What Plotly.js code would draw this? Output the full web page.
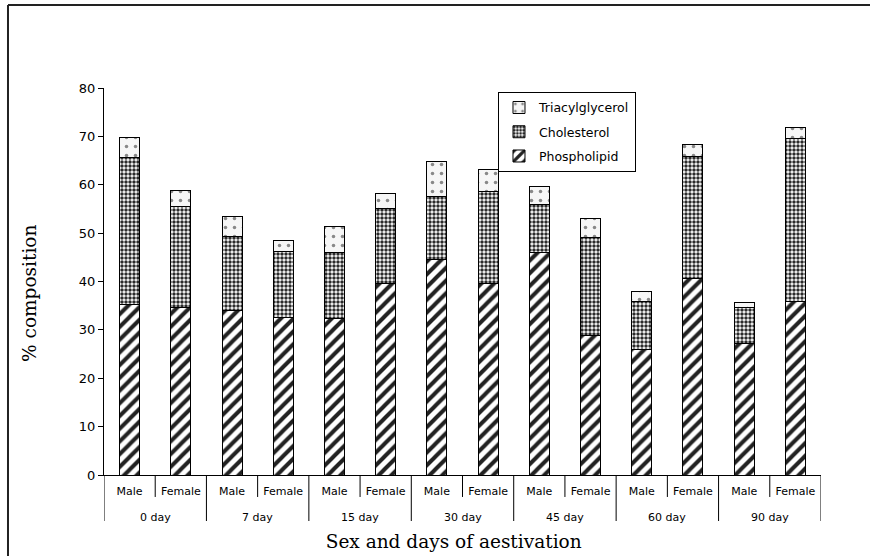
<!DOCTYPE html>
<html>
<head>
<meta charset="utf-8">
<script src="https://cdn.plot.ly/plotly-3.0.1.min.js"></script>
<style>html,body{margin:0;padding:0;background:#fff;}</style>
</head>
<body>
<div id="chart" style="width:870px;height:556px;"></div>
<script>
const groups = ['0 day','7 day','15 day','30 day','45 day','60 day','90 day'];
const sexes = ['Male','Female'];
const phospholipid = [35.3, 34.6, 34.0, 32.6, 32.4, 39.6, 44.6, 39.6, 46.0, 28.8, 26.0, 40.7, 27.2, 35.8];
const cholesterol = [30.3, 20.9, 15.3, 13.7, 13.6, 15.4, 12.9, 19.0, 9.9, 20.3, 9.9, 25.2, 7.4, 33.8];
const triacylglycerol = [4.1, 3.3, 4.2, 2.2, 5.4, 3.2, 7.4, 4.5, 3.7, 4.0, 2.0, 2.5, 1.0, 2.2];
const yTicks = [0,10,20,30,40,50,60,70,80];

// unique category keys, labelled with the sex; groups drawn below
const cats = [], catLabels = [];
groups.forEach(g => sexes.forEach(s => { cats.push(g + ' ' + s); catLabels.push(s); }));

const SANS = 'DejaVu Sans, Liberation Sans, Arial, sans-serif';
const SERIF = 'DejaVu Serif, Liberation Serif, serif';

const common = {type:'bar', x:cats, width:0.39, hoverinfo:'y'};
const traces = [
  Object.assign({}, common, {name:'Phospholipid', y:phospholipid, legendgroup:'p', legendrank:3,
    marker:{color:'#ffffff', line:{color:'#000', width:1},
      pattern:{shape:'/', fgcolor:'#222', bgcolor:'#ffffff', size:9, solidity:0.45}}}),
  Object.assign({}, common, {name:'Cholesterol', y:cholesterol, legendgroup:'c', legendrank:2,
    marker:{color:'#ffffff', line:{color:'#000', width:1},
      pattern:{shape:'.', fgcolor:'#2a2a2a', bgcolor:'#ffffff', size:4, solidity:0.6}}}),
  Object.assign({}, common, {name:'Triacylglycerol', y:triacylglycerol, legendgroup:'t', legendrank:1,
    marker:{color:'#f6f6f6', line:{color:'#000', width:1},
      pattern:{shape:'.', fgcolor:'#888', bgcolor:'#f6f6f6', size:9, solidity:0.12}}})
];

// axis decoration: separators and group labels
const shapes = [
  {type:'line', xref:'paper', yref:'paper', x0:-0.1339, x1:2, y0:1.2145, y1:1.2145, line:{color:'#222', width:2}},
  {type:'line', xref:'paper', yref:'paper', x0:-0.1339, x1:-0.1339, y0:1.2145, y1:-1, line:{color:'#222', width:2}}
];
const annotations = [];
groups.forEach((g, i) => {
  shapes.push({type:'line', xref:'x', yref:'paper', x0:2*i-0.5, x1:2*i-0.5, y0:0, y1:-0.1189, line:{color:'#000', width:1}});
  shapes.push({type:'line', xref:'x', yref:'paper', x0:2*i+0.5, x1:2*i+0.5, y0:0, y1:-0.0568, line:{color:'#000', width:1}});
  annotations.push({xref:'x', yref:'paper', x:2*i+0.5, y:-0.111, yanchor:'middle', xanchor:'center',
    showarrow:false, text:g, font:{family:SANS, size:11, color:'#000'}});
});
shapes.push({type:'line', xref:'x', yref:'paper', x0:13.5, x1:13.5, y0:0, y1:-0.1189, line:{color:'#000', width:1}});

const layout = {
  width:870, height:556,
  margin:{l:104, r:49, t:88, b:81},
  barmode:'stack',
  paper_bgcolor:'#fff', plot_bgcolor:'#fff',
  font:{family:SANS, size:11, color:'#000'},
  showlegend:true,
  legend:{x:0.5495, y:0.99, xanchor:'left', yanchor:'top',
    bgcolor:'#fff', bordercolor:'#000', borderwidth:1,
    font:{family:SANS, size:12.5, color:'#000'},
    traceorder:'grouped', tracegroupgap:5, itemwidth:30},
  xaxis:{type:'category', range:[-0.5, 13.5], tickvals:cats, ticktext:catLabels,
    showline:true, linecolor:'#000', linewidth:1,
    ticks:'outside', ticklen:6, tickcolor:'rgba(0,0,0,0)',
    showgrid:false, zeroline:false,
    tickfont:{family:SANS, size:11, color:'#000'},
    title:{text:'Sex and days of aestivation&nbsp;&nbsp;&nbsp;', standoff:37,
      font:{family:SERIF, size:18.5, color:'#000'}}},
  yaxis:{range:[0,80], tickvals:yTicks, ticktext:yTicks.map(String),
    showline:true, linecolor:'#000', linewidth:1,
    ticks:'outside', ticklen:5, tickcolor:'#000',
    showgrid:false, zeroline:false,
    tickfont:{family:SANS, size:13, color:'#000'},
    title:{text:'% composition&nbsp;&nbsp;&nbsp;&nbsp;', standoff:37,
      font:{family:SERIF, size:18.5, color:'#000'}}},
  shapes:shapes,
  annotations:annotations
};

Plotly.newPlot('chart', traces, layout, {displayModeBar:false, staticPlot:true});
</script>
</body>
</html>
